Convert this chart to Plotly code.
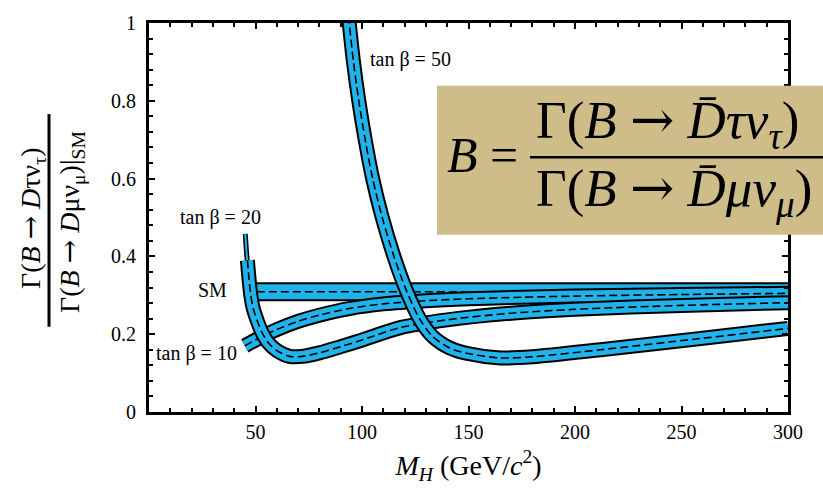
import plotly.graph_objects as go

# ---- data ----
mh_sm = [45, 300]
r_sm = [0.309, 0.309]

mh_tb10 = [45, 50, 60, 70, 80, 94, 110, 130, 150, 175, 200, 250, 300]
r_tb10 = [0.170, 0.185, 0.212, 0.233, 0.249, 0.266, 0.278, 0.286, 0.291, 0.295, 0.298, 0.302, 0.305]

mh_tb20 = [46.2, 47, 47.8, 49, 51, 53, 56, 60, 66, 72, 80, 90, 100, 118, 140, 170, 200, 250, 300]
r_tb20 = [0.39, 0.34, 0.30, 0.265, 0.232, 0.205, 0.178, 0.158, 0.143, 0.143, 0.152, 0.168, 0.185, 0.217, 0.237, 0.254, 0.264, 0.274, 0.281]
# thin tip of the tan(beta)=20 band
mh_tb20_tip = [45.2, 45.8, 46.6]
r_tb20_tip = [0.458, 0.41, 0.36]

mh_tb50 = [92.5, 94, 96, 98.5, 101.5, 105, 109.5, 115, 121, 127, 133, 141, 149, 165, 180, 212, 259, 300]
r_tb50 = [1.08, 1.0, 0.9, 0.8, 0.7, 0.6, 0.5, 0.4, 0.31, 0.24, 0.195, 0.165, 0.151, 0.139, 0.142, 0.16, 0.189, 0.215]

x_ticks = [50, 100, 150, 200, 250, 300]
y_ticks = [0, 0.2, 0.4, 0.6, 0.8, 1]

BLUE = "#22b2ea"
SERIF = "Liberation Serif"
ARROW = "<span style='font-family:DejaVu Serif'>→</span>"

W, H = 823, 496
L, R, T, B = 149, 35, 15, 84
PW, PH = W - L - R, H - T - B


def px(xp):
    return (xp - L) / PW


def py(yp):
    return (H - B - yp) / PH


fig = go.Figure()


def band(x, y, outer, inner, dashw=1.6, smooth=0.8):
    shape = "spline" if len(x) > 2 else "linear"
    fig.add_trace(go.Scatter(x=x, y=y, mode="lines",
                             line=dict(color="black", width=outer, shape=shape, smoothing=smooth),
                             hoverinfo="skip", showlegend=False))
    fig.add_trace(go.Scatter(x=x, y=y, mode="lines",
                             line=dict(color=BLUE, width=inner, shape=shape, smoothing=smooth),
                             hoverinfo="skip", showlegend=False))
    if dashw > 0:
        fig.add_trace(go.Scatter(x=x, y=y, mode="lines",
                                 line=dict(color="black", width=dashw, dash="8px,4px", shape=shape,
                                           smoothing=smooth),
                                 hoverinfo="skip", showlegend=False))


band(mh_sm, r_sm, 19, 15)
band(mh_tb10, r_tb10, 15, 11)
band(mh_tb20_tip, r_tb20_tip, 5, 2, dashw=0)
band(mh_tb20, r_tb20, 15, 11)
band(mh_tb50, r_tb50, 15, 11)

axis_common = dict(
    showline=True, linecolor="black", linewidth=3, mirror="allticks",
    ticks="inside", ticklen=6, tickwidth=2, tickcolor="black",
    showgrid=False, zeroline=False,
    tickfont=dict(family=SERIF, size=20, color="black"),
)

fig.update_xaxes(range=[0, 300], tickvals=x_ticks, ticktext=[str(v) for v in x_ticks],
                 minor=dict(tickmode="linear", tick0=0, dtick=10, ticklen=4, tickwidth=2,
                            tickcolor="black", ticks="inside"),
                 title=dict(text="<i>M<sub>H</sub></i> (GeV/<i>c</i><sup>2</sup>)",
                            font=dict(family=SERIF, size=28, color="black"), standoff=14),
                 **axis_common)
fig.update_yaxes(range=[0, 1], tickvals=y_ticks, ticktext=["0", "0.2", "0.4", "0.6", "0.8", "1"],
                 minor=dict(tickmode="linear", tick0=0, dtick=0.04, ticklen=4, tickwidth=2,
                            tickcolor="black", ticks="inside"),
                 ticklabelstandoff=6,
                 **axis_common)

ann = []
lab_font = dict(family=SERIF, size=20, color="black")
ann.append(dict(x=px(410), y=py(52), xref="paper", yref="paper", text="tan β = 50",
                showarrow=False, font=lab_font, xanchor="center", yanchor="middle"))
ann.append(dict(x=px(220), y=py(214), xref="paper", yref="paper", text="tan β = 20",
                showarrow=False, font=lab_font, xanchor="center", yanchor="middle"))
ann.append(dict(x=px(212), y=py(287), xref="paper", yref="paper", text="SM",
                showarrow=False, font=lab_font, xanchor="center", yanchor="middle"))
ann.append(dict(x=px(196), y=py(352), xref="paper", yref="paper", text="tan β = 10",
                showarrow=False, font=lab_font, xanchor="center", yanchor="middle"))

# y-axis title as a rotated fraction
yt_font = dict(family=SERIF, size=28, color="black")
ann.append(dict(x=px(32), y=py(215), xref="paper", yref="paper",
                text="Γ(<i>B</i> " + ARROW + " <i>D</i>τν<sub>τ</sub>)", textangle=-90,
                showarrow=False, font=yt_font, xanchor="center", yanchor="middle"))
ann.append(dict(x=px(71), y=py(218), xref="paper", yref="paper",
                text="Γ(<i>B</i> " + ARROW + " <i>D</i>μν<sub>μ</sub>)|<sub>SM</sub>", textangle=-90,
                showarrow=False, font=yt_font, xanchor="center", yanchor="middle"))

# formula box
big = dict(family=SERIF, size=50, color="black")
frac = dict(family=SERIF, size=53, color="black")
ann.append(dict(x=px(445), y=py(150), xref="paper", yref="paper",
                text="<i>B</i> =", showarrow=False, font=big, xanchor="left", yanchor="middle"))
ann.append(dict(x=px(534), y=py(117), xref="paper", yref="paper",
                text="Γ(<i>B</i> " + ARROW + " <i>D̄τν</i><sub><i>τ</i></sub>)", showarrow=False, font=frac,
                xanchor="left", yanchor="middle"))
ann.append(dict(x=px(534), y=py(186), xref="paper", yref="paper",
                text="Γ(<i>B</i> " + ARROW + " <i>D̄μν</i><sub><i>μ</i></sub>)", showarrow=False, font=frac,
                xanchor="left", yanchor="middle"))

shapes = [
    dict(type="line", xref="paper", yref="paper", x0=px(49), x1=px(49), y0=py(108), y1=py(325),
         line=dict(color="black", width=3)),
    dict(type="rect", xref="paper", yref="paper", x0=px(437), x1=px(840), y0=py(79), y1=py(231),
         fillcolor="#cebd88", line=dict(width=0), layer="above"),
    dict(type="line", xref="paper", yref="paper", x0=px(530), x1=px(840), y0=py(152), y1=py(152),
         line=dict(color="black", width=2.5), layer="above"),
]

fig.update_layout(
    width=W, height=H, margin=dict(l=L, r=R, t=T, b=B),
    paper_bgcolor="white", plot_bgcolor="white",
    annotations=ann, shapes=shapes, showlegend=False,
)

fig.write_html("out.html")
